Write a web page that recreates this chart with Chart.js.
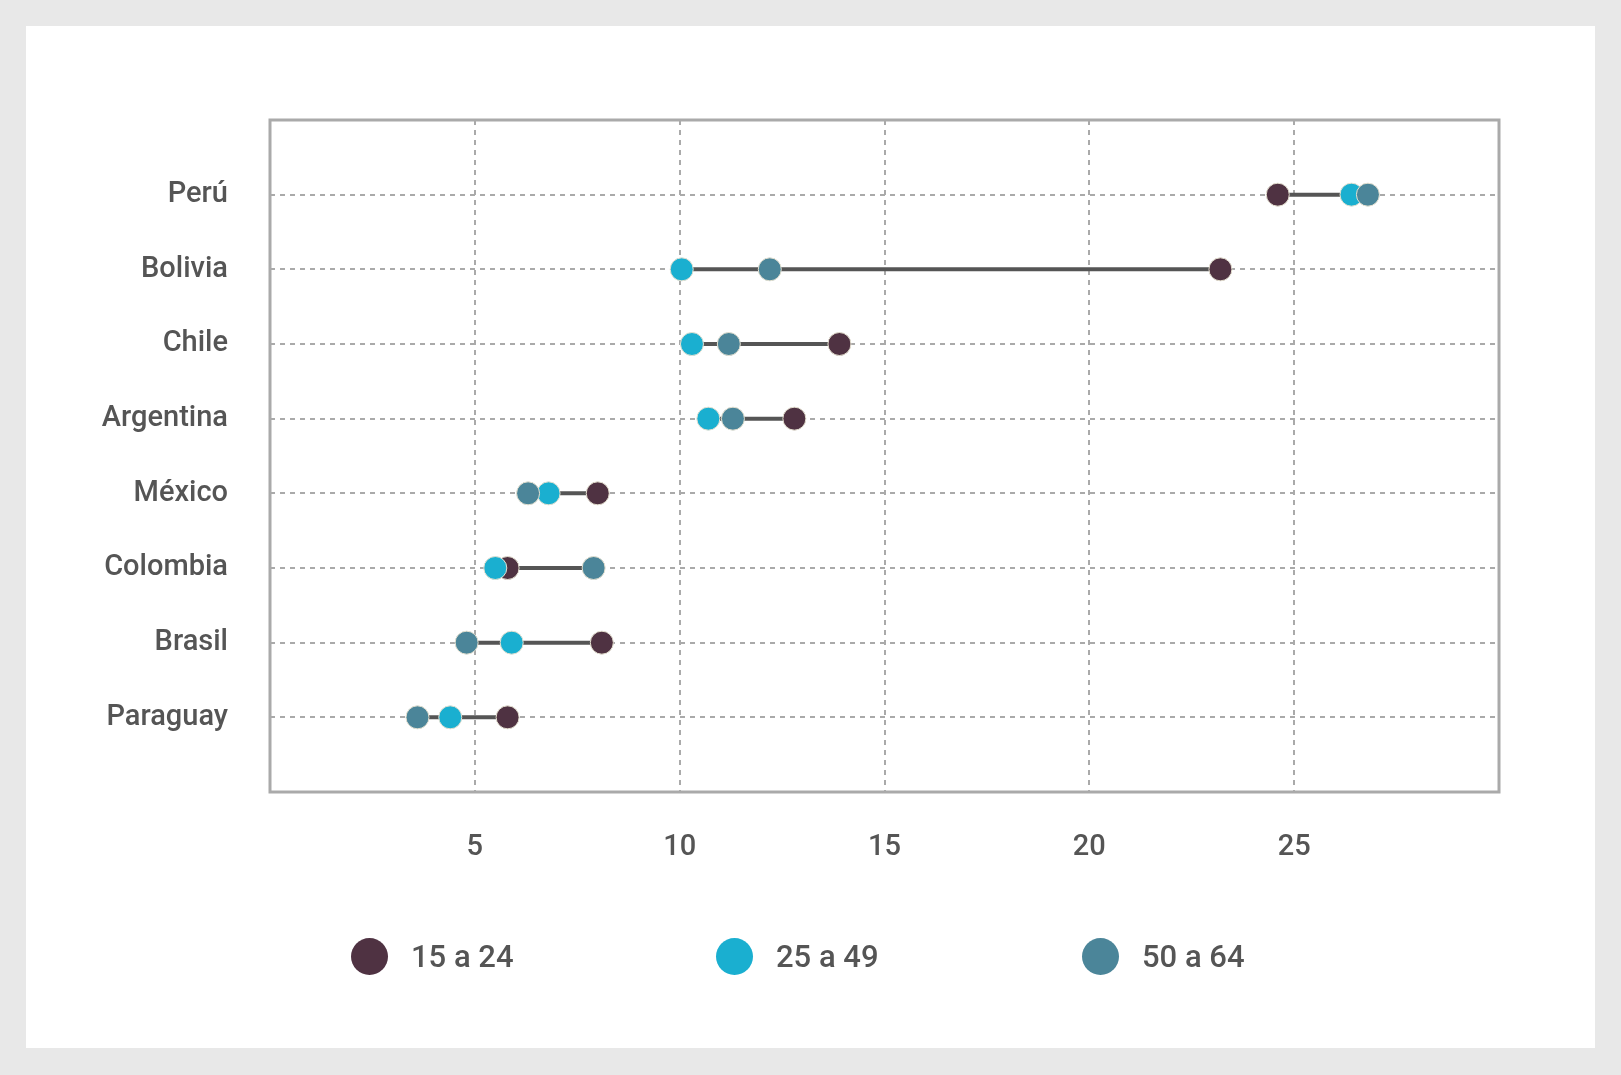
<!DOCTYPE html>
<html><head><meta charset="utf-8">
<script src="https://cdn.jsdelivr.net/npm/chart.js@4"></script>
<style>
html,body{margin:0;padding:0;background:#e8e8e8;width:1621px;height:1075px;overflow:hidden;font-family:Roboto,sans-serif}
#panel{position:absolute;left:26px;top:26px;width:1569px;height:1022px;background:#fff}
#c{position:absolute;left:0;top:0}
.lg{position:absolute;top:938px;font:500 31px Roboto;color:#555;display:flex;align-items:center}
.lg span{display:inline-block;width:37px;height:37px;border-radius:50%;margin-right:23px}
</style></head><body>
<div id="panel"></div>
<canvas id="c" width="1621" height="1075"></canvas>
<div class="lg" style="left:351px"><span style="background:#4f3242"></span>15 a 24</div>
<div class="lg" style="left:716px"><span style="background:#1aafd0"></span>25 a 49</div>
<div class="lg" style="left:1082px"><span style="background:#4b8599"></span>50 a 64</div>
<script>
const countries=["Perú","Bolivia","Chile","Argentina","México","Colombia","Brasil","Paraguay"];
const age15_24=[24.6,23.2,13.9,12.8,8.0,5.8,8.1,5.8];
const age25_49=[26.4,10.05,10.3,10.7,6.8,5.5,5.9,4.4];
const age50_64=[26.8,12.2,11.2,11.3,6.3,7.9,4.8,3.6];
const xTicks=[5,10,15,20,25];
const colors=["#4f3242","#1aafd0","#4b8599"];
const pos=i=>i+1;
const ds=[];
countries.forEach((c,i)=>{
  const v=[age15_24[i],age25_49[i],age50_64[i]];
  ds.push({type:'line',data:[{x:Math.min(...v),y:pos(i)},{x:Math.max(...v),y:pos(i)}],borderColor:'#555',borderWidth:4,pointRadius:0,order:5});
});
[age15_24,age25_49,age50_64].forEach((arr,k)=>{
  ds.push({type:'scatter',data:arr.map((x,i)=>({x,y:pos(i)})),backgroundColor:colors[k],borderColor:'#e4e0d0',borderWidth:1,pointRadius:11.5,pointHoverRadius:11.5,order:3-k});
});
const frame={id:'frame',afterDraw(ch){const a=ch.chartArea,x=ch.ctx;x.save();x.strokeStyle='#aaa';x.lineWidth=3;x.strokeRect(a.left,a.top,a.right-a.left,a.bottom-a.top);x.restore();}};
new Chart(document.getElementById('c'),{
  type:'scatter',data:{datasets:ds},plugins:[frame],
  options:{responsive:false,animation:false,events:[],
    layout:{padding:{left:40,top:120,right:122,bottom:203}},
    plugins:{legend:{display:false},tooltip:{enabled:false}},
    scales:{
      x:{type:'linear',min:0,max:30,afterFit:s=>{s.height=80},
        afterBuildTicks:s=>{s.ticks=[0,...xTicks,30].map(v=>({value:v}))},
        border:{display:false,dash:[5,5]},
        grid:{drawTicks:false,color:c=>xTicks.includes(c.tick.value)?'#aaa':'rgba(0,0,0,0)',lineWidth:2},
        ticks:{padding:38,color:'#555',font:{family:'Roboto',size:29,weight:500},callback:v=>xTicks.includes(v)?String(v):''}},
      y:{type:'linear',min:0,max:9,reverse:true,afterFit:s=>{s.width=230},
        afterBuildTicks:s=>{s.ticks=[0,1,2,3,4,5,6,7,8,9].map(v=>({value:v}))},
        border:{display:false,dash:[5,5]},
        grid:{drawTicks:false,color:c=>(c.tick.value>=1&&c.tick.value<=8)?'#aaa':'rgba(0,0,0,0)',lineWidth:2},
        ticks:{padding:42,color:'#555',font:{family:'Roboto',size:29,weight:500},callback:v=>(v>=1&&v<=8)?countries[v-1]:''}}
    }
  }
});
</script>
</body></html>
